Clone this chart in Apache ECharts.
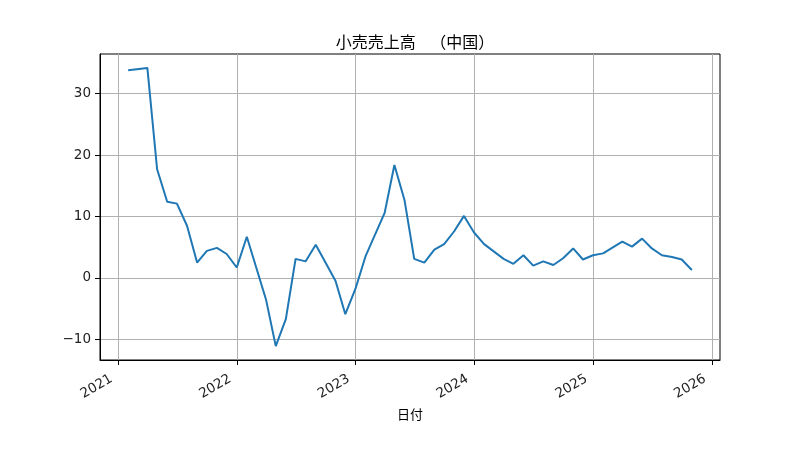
<!DOCTYPE html>
<html>
<head>
<meta charset="utf-8">
<script src="https://cdn.jsdelivr.net/npm/echarts@6/dist/echarts.min.js"></script>
<style>html,body{margin:0;padding:0;background:#fff}#c{width:800px;height:450px}</style>
</head>
<body>
<div id="c"></div>
<script>
const dates = ['2021-01-31','2021-03-31','2021-04-30','2021-05-31','2021-06-30','2021-07-31','2021-08-31','2021-09-30','2021-10-31','2021-11-30','2021-12-31',
'2022-01-31','2022-03-31','2022-04-30','2022-05-31','2022-06-30','2022-07-31','2022-08-31','2022-09-30','2022-10-31','2022-11-30','2022-12-31',
'2023-01-31','2023-03-31','2023-04-30','2023-05-31','2023-06-30','2023-07-31','2023-08-31','2023-09-30','2023-10-31','2023-11-30','2023-12-31',
'2024-01-31','2024-03-31','2024-04-30','2024-05-31','2024-06-30','2024-07-31','2024-08-31','2024-09-30','2024-10-31','2024-11-30','2024-12-31',
'2025-01-31','2025-03-31','2025-04-30','2025-05-31','2025-06-30','2025-07-31','2025-08-31','2025-09-30','2025-10-31'];
const values = [33.8,34.2,17.7,12.4,12.1,8.5,2.5,4.4,4.9,3.9,1.7,
6.7,-3.5,-11.1,-6.7,3.1,2.7,5.4,2.5,-0.5,-5.9,-1.8,
3.5,10.6,18.4,12.7,3.1,2.5,4.6,5.5,7.6,10.1,7.4,
5.5,3.1,2.3,3.7,2.0,2.7,2.1,3.2,4.8,3.0,3.7,
4.0,5.9,5.1,6.4,4.8,3.7,3.4,3.0,1.3];
const yearTicks = ['2021','2022','2023','2024','2025','2026'];
const yTicks = [-10,0,10,20,30];
const titleText = '小売売上高    （中国）';
const xName = '日付';

const ts = dates.map(d => { const p = d.split('-').map(Number); return Date.UTC(p[0], p[1]-1, p[2]); });
const xTickVals = yearTicks.map(y => Date.UTC(Number(y), 0, 1));
const xSpan = ts[ts.length-1] - ts[0];
const xMin = ts[0] - 0.05*xSpan, xMax = ts[ts.length-1] + 0.05*xSpan;
const vMin = Math.min(...values), vMax = Math.max(...values), vSpan = vMax - vMin;
const yMin = vMin - 0.05*vSpan, yMax = vMax + 0.05*vSpan;

const font = '"Noto Sans CJK JP", "Noto Sans", sans-serif';
const numFont = '"DejaVu Sans", sans-serif';
const chart = echarts.init(document.getElementById('c'), null, {renderer:'canvas'});
chart.setOption({
  animation: false,
  backgroundColor: '#fff',
  title: {
    text: titleText, left: 410, top: 29, textAlign: 'center',
    textStyle: {fontFamily: font, fontSize: 16, fontWeight: 'normal', color: '#000'}
  },
  grid: {left: 100, right: 80, top: 54, bottom: 90, show: true, borderColor: '#000', borderWidth: 1, backgroundColor: 'transparent'},
  xAxis: {
    type: 'value', min: xMin, max: xMax,
    name: xName, nameLocation: 'middle', nameGap: 45,
    nameTextStyle: {fontFamily: font, fontSize: 13, color: '#000'},
    axisLine: {show: true, onZero: false, lineStyle: {color: '#000', width: 1}},
    axisTick: {show: true, inside: false, length: 5, lineStyle: {color: '#000', width: 1}, customValues: xTickVals},
    axisLabel: {
      customValues: xTickVals, rotate: 30, margin: 14, padding: [0, 8, 0, 0],
      fontFamily: numFont, fontSize: 13.5, color: '#222',
      formatter: v => String(new Date(v).getUTCFullYear())
    },
    splitLine: {show: true, lineStyle: {color: '#b0b0b0', width: 1}}
  },
  yAxis: {
    type: 'value', min: yMin, max: yMax,
    axisLine: {show: true, onZero: false, lineStyle: {color: '#000', width: 1}},
    axisTick: {show: true, inside: false, length: 5, lineStyle: {color: '#000', width: 1}, customValues: yTicks},
    axisLabel: {customValues: yTicks, margin: 9, fontFamily: numFont, fontSize: 13.5, color: '#222',
      formatter: v => v < 0 ? '\u2212' + Math.abs(v) : String(v)},
    splitLine: {show: true, lineStyle: {color: '#b0b0b0', width: 1}}
  },
  series: [{
    type: 'line', data: ts.map((t, i) => [t, values[i]]),
    showSymbol: false, symbol: 'none',
    lineStyle: {color: '#1f77b4', width: 2},
    itemStyle: {color: '#1f77b4'}
  }]
});
</script>
</body>
</html>
